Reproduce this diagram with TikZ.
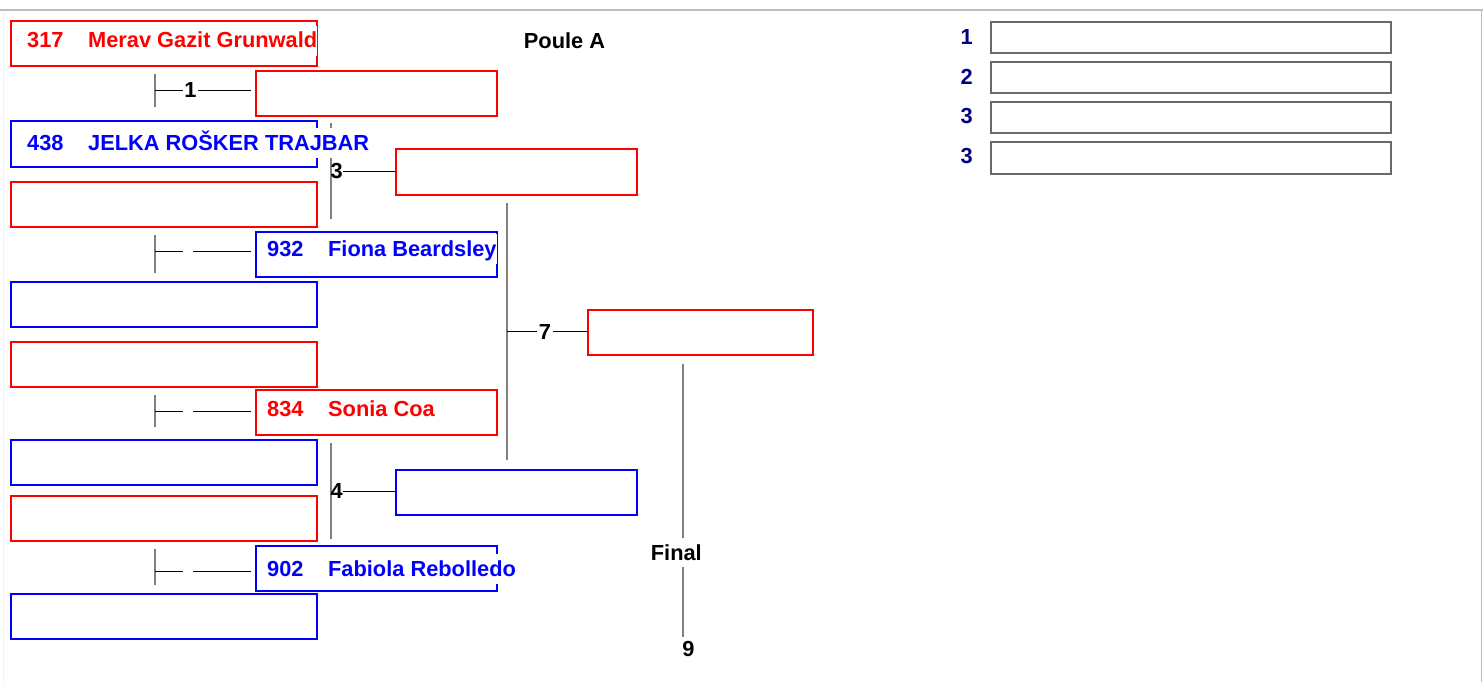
\documentclass[tikz,border=0pt]{standalone}
\usepackage{fontspec}
\setmainfont{Liberation Sans}
\usetikzlibrary{positioning}
\definecolor{redline}{RGB}{255,0,0}
\definecolor{blueline}{RGB}{0,0,255}
\definecolor{navytext}{RGB}{0,0,128}
\definecolor{tickgray}{RGB}{128,128,128}
\definecolor{placegray}{RGB}{105,105,105}
\definecolor{framegray}{RGB}{190,190,190}
\newcommand{\bigbold}{\bfseries\fontsize{21.8}{24}\selectfont}
\tikzset{
  slot/.style={draw, line width=2pt, inner sep=0pt, minimum height=45pt},
  redslot/.style={slot, draw=redline},
  blueslot/.style={slot, draw=blueline},
  wide/.style={minimum width=306pt},
  mid/.style={minimum width=241pt},
  nm/.style={font=\bigbold, fill=white, inner xsep=0pt, inner ysep=2pt,
    text height=20pt, text depth=6pt, anchor=base west},
  mlab/.style={font=\bigbold, inner sep=0pt},
  tick/.style={draw=tickgray, line width=2pt},
  link/.style={draw=black, line width=1pt},
  place/.style={draw=placegray, line width=2pt, inner sep=0pt,
    minimum width=400pt, minimum height=31pt},
}
\begin{document}
\begin{tikzpicture}[x=1pt,y=-1pt]
\useasboundingbox (0,0) rectangle (1483,682);
% page frame
\draw[framegray, line width=2pt] (0,10) -- (1483,10);
\draw[framegray, line width=1.5pt] (1481.5,10) -- (1481.5,682);
\draw[gray!12] (3,11) -- (3,682);

\node[mlab] (poule) at (564.5,41) {Poule A};

% first round
\node[redslot, wide] (a1) at (164,44) {};
\node[blueslot, wide] (a2) at (164,144) {};
\node[redslot, wide] (a3) at (164,204) {};
\node[blueslot, wide] (a4) at (164,304) {};
\node[redslot, wide] (a5) at (164,364) {};
\node[blueslot, wide] (a6) at (164,462) {};
\node[redslot, wide] (a7) at (164,518) {};
\node[blueslot, wide] (a8) at (164,616) {};

% second round
\node[redslot, mid] (b1) at (376.5,94) {};
\node[blueslot, mid] (b2) at (376.5,254) {};
\node[redslot, mid] (b3) at (376.5,412) {};
\node[blueslot, mid] (b4) at (376.5,568.5) {};

% third round
\node[redslot, mid] (c1) at (516,172) {};
\node[blueslot, mid] (c2) at (516,492) {};

% fourth round
\node[redslot, minimum width=225pt] (d1) at (700.5,332) {};

% matches 1, 2, 5, 6
\node[mlab, minimum width=15pt] (m1) at (190.5,90.5) {1};
\coordinate (m1t) at (155,74.5); \coordinate (m1b) at (155,107);
\draw[tick] (m1t) -- (m1b);
\draw[link] (m1t |- m1) -- (m1.west);
\draw[link, shorten >=4pt] (m1.east) -- (m1.east -| b1.west);

\node[mlab, minimum width=10pt] (m2) at (188,251.5) {};
\coordinate (m2t) at (155,235); \coordinate (m2b) at (155,273);
\draw[tick] (m2t) -- (m2b);
\draw[link] (m2t |- m2) -- (m2.west);
\draw[link, shorten >=4pt] (m2.east) -- (m2.east -| b2.west);

\node[mlab, minimum width=10pt] (m5) at (188,411.5) {};
\coordinate (m5t) at (155,395); \coordinate (m5b) at (155,427);
\draw[tick] (m5t) -- (m5b);
\draw[link] (m5t |- m5) -- (m5.west);
\draw[link, shorten >=4pt] (m5.east) -- (m5.east -| b3.west);

\node[mlab, minimum width=10pt] (m6) at (188,571.5) {};
\coordinate (m6t) at (155,549); \coordinate (m6b) at (155,585);
\draw[tick] (m6t) -- (m6b);
\draw[link] (m6t |- m6) -- (m6.west);
\draw[link, shorten >=4pt] (m6.east) -- (m6.east -| b4.west);

% matches 3 and 4
\coordinate (m3t) at (331,123); \coordinate (m3b) at (331,219);
\draw[tick] (m3t) -- (m3b);
\node[mlab, anchor=west] (m3) at (330.5,171.5) {3};
\draw[link] (m3.east) -- (m3.east -| c1.west);

\coordinate (m4t) at (331,443); \coordinate (m4b) at (331,539);
\draw[tick] (m4t) -- (m4b);
\node[mlab, anchor=west] (m4) at (330.5,491) {4};
\draw[link] (m4.east) -- (m4.east -| c2.west);

% match 7
\coordinate (m7t) at (507,203); \coordinate (m7b) at (507,459.5);
\draw[tick] (m7t) -- (m7b);
\node[mlab, minimum width=15pt] (m7) at (545,331.5) {7};
\draw[link] (m7t |- m7) -- (m7.west);
\draw[link] (m7.east) -- (m7.east -| d1.west);

% final
\node[mlab, text height=15.5pt, text depth=0pt, inner ysep=7pt] (fin) at (676.3,552.5) {Final};
\coordinate (f1) at (683,364); \coordinate (f2) at (683,637);
\draw[tick] (f1) -- (f1 |- fin.north);
\draw[tick] (fin.south -| f1) -- (f2);
\node[mlab] (m9) at (688.5,648.5) {9};

% names
\node[nm, text=redline] (n1) at (27,48) {\makebox[61pt][l]{317}Merav Gazit Grunwald};
\node[nm, text=blueline] (n2) at (27,150) {\makebox[61pt][l]{438}JELKA ROŠKER TRAJBAR};
\node[nm, text=blueline] (n3) at (267,256) {\makebox[61pt][l]{932}Fiona Beardsley};
\node[nm, text=redline] (n4) at (267,416) {\makebox[61pt][l]{834}Sonia Coa};
\node[nm, text=blueline] (n5) at (267,576) {\makebox[61pt][l]{902}Fabiola Rebolledo};

% places
\node[place] (s1) at (1190.5,38) {};
\node[place] (s2) at (1190.5,77.5) {};
\node[place] (s3) at (1190.5,118) {};
\node[place] (s4) at (1190.5,158) {};
\node[mlab, text=navytext, anchor=west] (r1) at (960.5,36.7) {1};
\node[mlab, text=navytext, anchor=west] (r2) at (960.5,76.7) {2};
\node[mlab, text=navytext, anchor=west] (r3) at (960.5,115.7) {3};
\node[mlab, text=navytext, anchor=west] (r4) at (960.5,155.7) {3};
\end{tikzpicture}
\end{document}
